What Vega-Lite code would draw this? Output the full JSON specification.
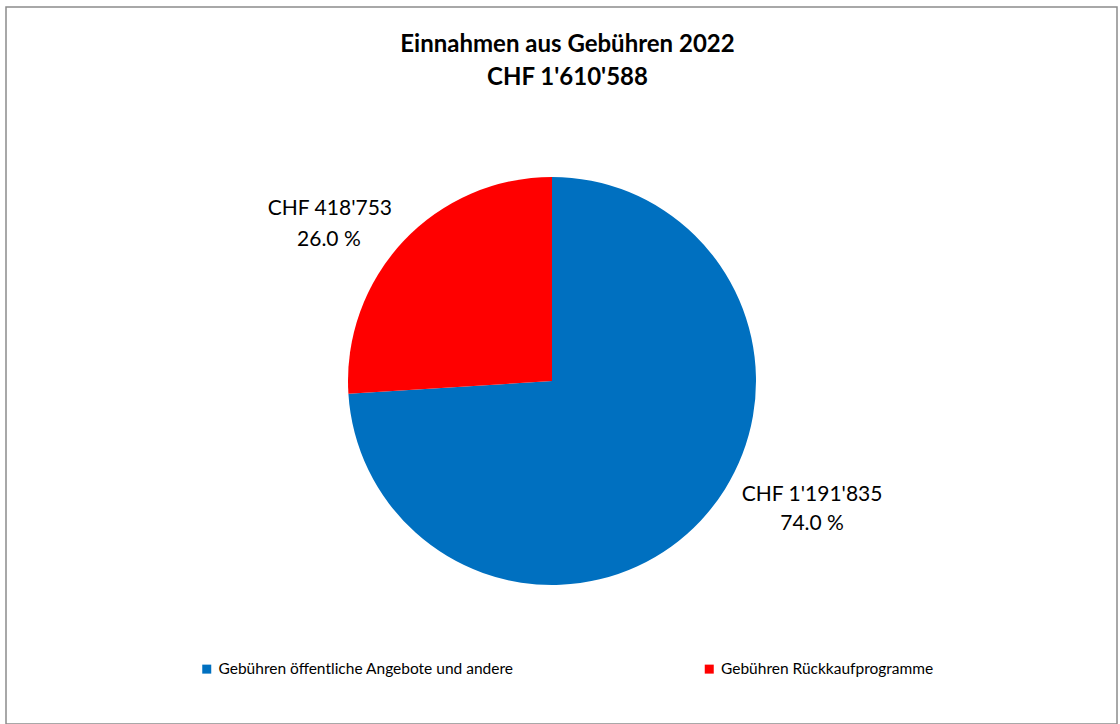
{
  "$schema": "https://vega.github.io/schema/vega-lite/v6.json",
  "width": 1111,
  "height": 717,
  "autosize": {"type": "none"},
  "padding": {"left": 6, "top": 7, "right": 3, "bottom": 0},
  "background": "white",
  "view": {"stroke": "#8c8c8c", "strokeWidth": 1.5, "fill": "white"},
  "title": {
    "text": ["Einnahmen aus Gebühren 2022", "CHF 1'610'588"],
    "font": "Lato",
    "fontSize": 24,
    "fontWeight": "bold",
    "color": "#000000",
    "anchor": "middle",
    "frame": "group",
    "offset": 0,
    "dy": 83,
    "dx": 6,
    "lineHeight": 33
  },
  "data": {
    "values": [
      {"cat": "Gebühren öffentliche Angebote und andere", "value": 1191835, "chf": "CHF 1'191'835", "pct": "74.0 %"},
      {"cat": "Gebühren Rückkaufprogramme", "value": 418753, "chf": "CHF 418'753", "pct": "26.0 %"}
    ]
  },
  "encoding": {
    "theta": {"field": "value", "type": "quantitative", "stack": true},
    "order": {"field": "value", "type": "quantitative", "sort": "descending"},
    "color": {
      "field": "cat",
      "type": "nominal",
      "scale": {
        "domain": ["Gebühren öffentliche Angebote und andere", "Gebühren Rückkaufprogramme"],
        "range": ["#0070C0", "#FF0000"]
      },
      "legend": {
        "title": null,
        "orient": "none",
        "direction": "horizontal",
        "columns": 2,
        "columnPadding": 187.5,
        "legendX": 193,
        "legendY": 654,
        "padding": 0,
        "symbolType": "square",
        "symbolSize": 81,
        "symbolStrokeWidth": 0,
        "labelFont": "Lato",
        "labelFontSize": 15.5,
        "labelColor": "#000000",
        "labelOffset": 4,
        "labelLimit": 0
      }
    }
  },
  "layer": [
    {
      "mark": {
        "type": "arc",
        "radius": 204,
        "x": {"expr": "width/2 - 9.5"},
        "y": {"expr": "height/2 + 15.5"},
        "stroke": "white",
        "strokeWidth": 0
      }
    },
    {
      "mark": {
        "type": "text",
        "radius": 280,
        "x": {"expr": "width/2 - 9.5"},
        "y": {"expr": "height/2 + 15.5"},
        "font": "Lato",
        "fontSize": 21,
        "color": "#000000",
        "align": "center",
        "baseline": "middle",
        "dx": {"expr": "datum.value > 1000000 ? 56 : -18"},
        "dy": {"expr": "datum.value > 1000000 ? -78 : 20"}
      },
      "encoding": {
        "text": {"field": "chf", "type": "nominal"},
        "color": {"value": "#000000"}
      }
    },
    {
      "mark": {
        "type": "text",
        "radius": 280,
        "x": {"expr": "width/2 - 9.5"},
        "y": {"expr": "height/2 + 15.5"},
        "font": "Lato",
        "fontSize": 21,
        "color": "#000000",
        "align": "center",
        "baseline": "middle",
        "dx": {"expr": "datum.value > 1000000 ? 56 : -19"},
        "dy": {"expr": "datum.value > 1000000 ? -49 : 51"}
      },
      "encoding": {
        "text": {"field": "pct", "type": "nominal"},
        "color": {"value": "#000000"}
      }
    }
  ],
  "config": {
    "view": {"stroke": "#8c8c8c", "strokeWidth": 1.5}
  }
}
